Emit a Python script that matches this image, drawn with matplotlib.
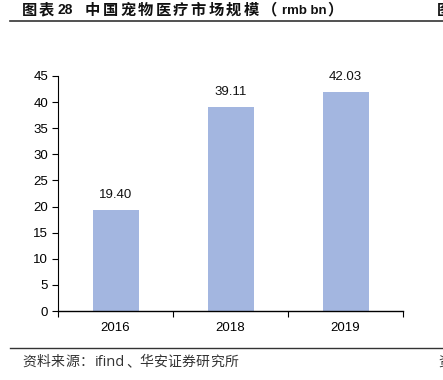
import matplotlib.pyplot as plt
from matplotlib.lines import Line2D

years = ['2016', '2018', '2019']
market_size = [19.40, 39.11, 42.03]
y_ticks = [0, 5, 10, 15, 20, 25, 30, 35, 40, 45]

title_label = '图表'
title_num = '28'
title_main = '中国宠物医疗市场规模'
title_unit = 'rmb bn'
source_head = '资料来源：'
source_db = 'ifind'
source_org = '华安证券研究所'

plt.rcParams['font.family'] = ['Liberation Sans', 'Noto Sans CJK SC', 'DejaVu Sans']

W, H = 443, 380
fig = plt.figure(figsize=(W / 100, H / 100), dpi=100)


def px_text(x, y, s, **kw):
    # y is the baseline, in pixels from the top of the picture
    return fig.text(x / W, 1 - y / H, s, va='baseline', ha='left', **kw)


def spaced(x, y, s, step, **kw):
    # chinese header text in the reference has wide character spacing
    for i, ch in enumerate(s):
        px_text(x + i * step, y, ch, **kw)


# plot area: x 58..403 px, y 76..311 px
ax = fig.add_axes([58 / W, 1 - 311 / H, (403 - 58) / W, (311 - 76) / H])

x = range(len(years))
ax.bar(x, market_size, width=0.4, color='#A3B6E0', zorder=2)
for xi, v in zip(x, market_size):
    ax.annotate(f'{v:.2f}', (xi, v), xytext=(0, 6), textcoords='offset points',
                ha='center', va='bottom', fontsize=9.5, color='#111111')

ax.set_xlim(-0.5, len(years) - 0.5)
ax.set_ylim(0, 45)
ax.set_yticks(y_ticks)
ax.set_yticklabels([str(t) for t in y_ticks], fontsize=9.5)
ax.set_xticks(list(x))
ax.set_xticklabels(years, fontsize=9.5)
ax.tick_params(axis='x', length=0, pad=8)
ax.tick_params(axis='y', length=4, width=0.8, pad=3)
# ticks at the category boundaries
ax.set_xticks([i - 0.5 for i in range(len(years) + 1)], minor=True)
ax.tick_params(axis='x', which='minor', length=4, width=0.8, direction='out')

for s in ['top', 'right']:
    ax.spines[s].set_visible(False)
ax.spines['left'].set_linewidth(0.8)
ax.spines['bottom'].set_linewidth(1.0)

# header
cjk_b = dict(fontsize=11, fontweight='bold', family=['Noto Sans CJK SC'], color='#111111')
lat_b = dict(fontsize=10, fontweight='bold', family=['Liberation Sans'], color='#111111')
ty = 14.5
spaced(22, ty, title_label, 17, **cjk_b)
px_text(57, ty, title_num, **lat_b)
spaced(85, ty, title_main, 17.6, **cjk_b)
px_text(262, ty, '（', **cjk_b)
px_text(281.5, ty, title_unit, fontsize=9.5, fontweight='bold', family=['Liberation Sans'],
        color='#111111')
px_text(327, ty, '）', **cjk_b)
px_text(437, ty, '图', **cjk_b)
fig.add_artist(Line2D([10 / W, 1], [1 - 20.5 / H, 1 - 20.5 / H], color='#333333', lw=1.2))

# footer
fig.add_artist(Line2D([10 / W, 1], [1 - 348 / H, 1 - 348 / H], color='#333333', lw=1.0))
cjk_n = dict(fontsize=10, family=['Noto Sans CJK SC'], color='#333333')
sy = 366
spaced(22, sy, source_head, 14.5, **cjk_n)
px_text(95, sy, source_db, fontsize=10.5, family=['Open Sans'], color='#333333')
px_text(126, sy, '、', **cjk_n)
spaced(139, sy, source_org, 14.2, **cjk_n)
px_text(438, sy, '资', **cjk_n)

fig.savefig('out.png', dpi=100)
